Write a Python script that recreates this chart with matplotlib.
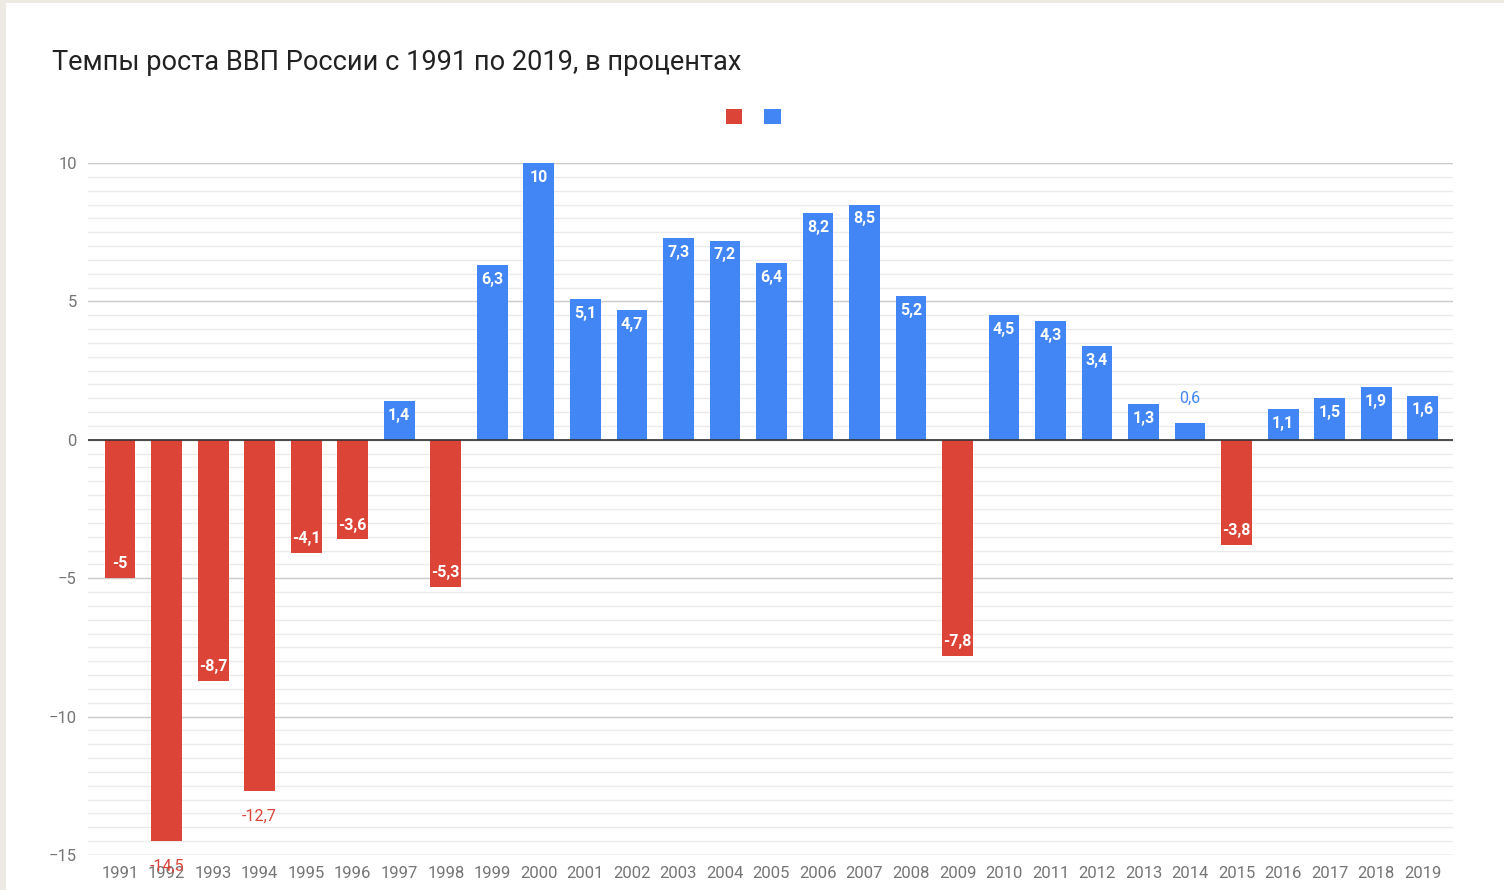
import matplotlib.pyplot as plt
from matplotlib.patches import Patch, Rectangle

# GDP growth of Russia, % per year
years = list(range(1991, 2020))
growth = [-5, -14.5, -8.7, -12.7, -4.1, -3.6, 1.4, -5.3, 6.3, 10,
          5.1, 4.7, 7.3, 7.2, 6.4, 8.2, 8.5, 5.2, -7.8, 4.5,
          4.3, 3.4, 1.3, 0.6, -3.8, 1.1, 1.5, 1.9, 1.6]
# labels that Google Sheets placed outside the bar
outside_years = [1992, 1994, 2014]

title = 'Темпы роста ВВП России с 1991 по 2019, в процентах'
y_ticks = [-15, -10, -5, 0, 5, 10]

RED = '#DB4437'
BLUE = '#4285F4'

plt.rcParams['font.family'] = ['Roboto', 'DejaVu Sans']

fig = plt.figure(figsize=(15.04, 8.9), dpi=100, facecolor='#EDEAE3')
# white card on beige page
fig.patches.append(Rectangle((6 / 1504, 0), 1 - 6 / 1504, 1 - 3 / 890,
                             transform=fig.transFigure, facecolor='white',
                             edgecolor='none', zorder=-10))

ax = fig.add_axes([88 / 1504, 35 / 890, (1453 - 88) / 1504, (855 - 163) / 890])
ax.set_facecolor('none')
ax.set_zorder(5)

x = list(range(len(years)))
colors = [RED if v < 0 else BLUE for v in growth]
ax.bar(x, growth, width=0.66, color=colors, zorder=2)

# gridlines: minor every 0.5, major every 5
minor = [i * 0.5 for i in range(-30, 21)]
for g in minor:
    ax.axhline(g, color='#EBEBEB', lw=1, zorder=0)
for g in y_ticks:
    ax.axhline(g, color='#CCCCCC', lw=1, zorder=1)
ax.axhline(0, color='#333333', lw=1.2, zorder=3)

# data labels
for xi, yr, v in zip(x, years, growth):
    txt = ('%g' % v).replace('.', ',')
    if yr in outside_years:
        off = 0.9 if v > 0 else -0.9
        ax.text(xi, v + off, txt, ha='center', va='center', fontsize=11.5,
                color=BLUE if v > 0 else RED, zorder=4)
    else:
        off = -0.52 if v > 0 else 0.52
        ax.text(xi, v + off, txt, ha='center', va='center', fontsize=11.5,
                color='white', fontweight='bold', zorder=4)

ax.set_xlim(-0.69, len(years) - 1 + 0.65)
ax.set_ylim(-15, 10)
ax.set_xticks(x)
ax.set_xticklabels([str(y) for y in years])
ax.set_yticks(y_ticks)
ax.tick_params(length=0, labelsize=12, colors='#757575', pad=8)
for s in ax.spines.values():
    s.set_visible(False)

fig.text(52 / 1504, 1 - 63 / 890, title, fontsize=19.5, color='#222222',
         ha='left', va='center')

handles = [Patch(facecolor=RED), Patch(facecolor=BLUE)]
fig.legend(handles, ['', ''], loc='center', bbox_to_anchor=(753 / 1504, 1 - 117 / 890),
           ncol=2, frameon=False, handlelength=1.0, handleheight=1.0,
           handletextpad=0.0, columnspacing=1.3, fontsize=12)

fig.savefig('out.png', dpi=100, facecolor=fig.get_facecolor())
